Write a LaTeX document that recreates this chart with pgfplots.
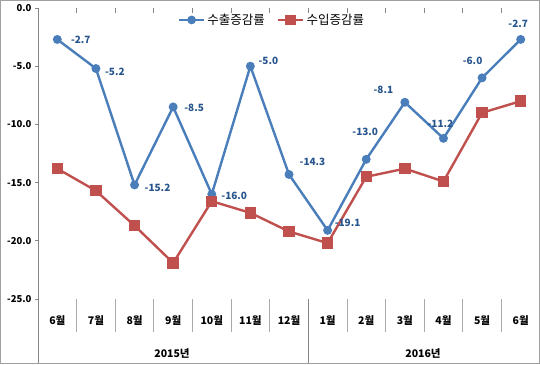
\documentclass[border=0pt]{standalone}
\usepackage{pgfplots}
\usepackage{pgfplotstable}
\pgfplotsset{compat=1.18}
\usepackage{fontspec}
\setmainfont{Noto Sans CJK KR}
\definecolor{expblue}{RGB}{74,126,187}
\definecolor{impred}{RGB}{192,80,77}
\definecolor{labblue}{RGB}{38,84,140}
\definecolor{axgray}{RGB}{134,134,134}
\definecolor{framegray}{RGB}{160,160,160}
\pgfplotstableread{
x y dx dy
0 -2.7 23.5 0
1 -5.2 19 -3
2 -15.2 23 -3
3 -8.5 21 -1
4 -16.0 22.5 -2
5 -5.0 18 5
6 -14.3 23.5 13
7 -19.1 20 7
8 -13.0 -1 27
9 -8.1 -21.5 12
10 -11.2 -3 14
11 -6.0 -9.5 17
12 -2.7 -2.5 16
}\exporttab
\pgfplotstableread{
x y
0 -13.8
1 -15.7
2 -18.7
3 -21.9
4 -16.6
5 -17.6
6 -19.2
7 -20.2
8 -14.5
9 -13.8
10 -14.9
11 -9.0
12 -8.0
}\importtab
\begin{document}
\begin{tikzpicture}[x=1pt,y=1pt]
\draw[framegray, line width=1pt] (0.5,0.5) rectangle (539.5,363.5);
\begin{axis}[
  at={(38pt,65pt)}, anchor=south west, scale only axis,
  width=502pt, height=291pt,
  xmin=-0.5, xmax=12.5, ymin=-25, ymax=0,
  clip=false,
  axis x line=none,
  axis y line*=left,
  y axis line style={axgray, line width=0.8pt, -},
  ytick={-25,-20,-15,-10,-5,0},
  ytick style={axgray, line width=0.8pt},
  tick align=outside, major tick length=3pt,
  yticklabel style={font=\bfseries\fontsize{9.5}{10}\selectfont, /pgf/number format/.cd, fixed, fixed zerofill, precision=1, assume math mode=true},
  legend style={draw=none, fill=none, legend columns=2, font=\fontsize{12.5}{14}\selectfont,
    at={(0.466,0.959)}, anchor=center, /tikz/every even column/.append style={column sep=10pt}},
  legend image code/.code={\draw[mark repeat=2,mark phase=2,#1] plot coordinates {(0pt,0pt) (12.5pt,0pt) (25pt,0pt)};},
]
\addlegendimage{expblue, line width=2.6pt, mark=*, mark size=3pt, mark options={fill=expblue}}
\addlegendentry{수출증감률}
\addlegendimage{impred, line width=2.6pt, mark=square*, mark size=4pt, mark options={fill=impred}}
\addlegendentry{수입증감률}
\addplot[expblue, line width=2.4pt, mark=*, mark size=3.2pt, mark options={fill=expblue}, forget plot,
  visualization depends on={\thisrow{dx}\as\dx},
  visualization depends on={\thisrow{dy}\as\dy},
  nodes near coords={\pgfmathprintnumber[fixed,fixed zerofill,precision=1,assume math mode=true]{\pgfplotspointmeta}},
  every node near coord/.append style={anchor=center, xshift=\dx pt, yshift=\dy pt, font=\bfseries\fontsize{10}{11}\selectfont, text=labblue}
] table[x=x,y=y]{\exporttab};
\addplot[impred, line width=2.4pt, mark=square*, mark size=4.5pt, mark options={fill=impred}, forget plot] table[x=x,y=y]{\importtab};
\end{axis}
% separators and category labels
\foreach \k in {1,...,12} {
  \draw[axgray, line width=0.8pt] ({38+38.615*\k},356) -- ({38+38.615*\k},351);
}
\foreach \k in {1,2,3,4,5,6,8,9,10,11,12} {
  \draw[axgray!70, line width=0.8pt] ({38+38.615*\k},65) -- ({38+38.615*\k},32);
}
\foreach \k in {0,7} {
  \draw[axgray, line width=0.8pt] ({38+38.615*\k},65) -- ({38+38.615*\k},1);
}
\foreach \lab [count=\i from 0] in {6월,7월,8월,9월,10월,11월,12월,1월,2월,3월,4월,5월,6월} {
  \node[font=\bfseries\fontsize{10.5}{12}\selectfont, inner sep=0pt] at ({38+19.31+38.615*\i},43) {\lab};
}
\node[font=\bfseries\fontsize{10.5}{12}\selectfont, inner sep=0pt] at (172,11) {2015년};
\node[font=\bfseries\fontsize{10.5}{12}\selectfont, inner sep=0pt] at (423,11) {2016년};
\end{tikzpicture}
\end{document}
